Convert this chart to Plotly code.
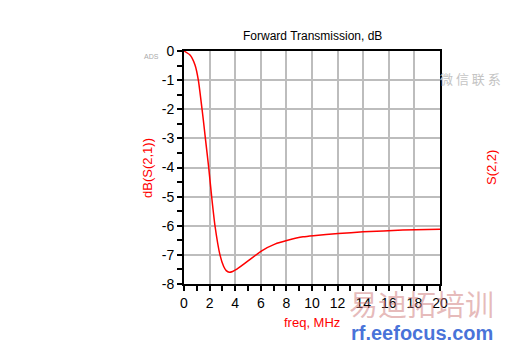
import plotly.graph_objects as go

freq_mhz = [0, 0.47, 0.86, 1.12, 1.41, 1.51, 1.67, 1.93, 2.16, 2.42, 2.81, 3.1, 3.3, 3.54, 3.8, 4.06,
            4.9, 6.07, 7.1, 8.1, 9.3, 10.1, 12.05, 14.0, 17.1, 20.0]
db_s21 = [0, -0.14, -0.48, -1.0, -2.0, -2.37, -3.0, -4.0, -5.0, -6.0, -7.0, -7.4, -7.54, -7.6, -7.57, -7.51,
          -7.24, -6.86, -6.63, -6.50, -6.38, -6.34, -6.27, -6.21, -6.15, -6.12]

x_ticks = [0, 2, 4, 6, 8, 10, 12, 14, 16, 18, 20]
y_ticks = [0, -1, -2, -3, -4, -5, -6, -7, -8]

FONT = "Liberation Sans, Arial, sans-serif"
RED = "#ff0000"

fig = go.Figure()
fig.add_trace(go.Scatter(x=freq_mhz, y=db_s21, mode="lines",
                         line=dict(color=RED, width=1.5, shape="spline", smoothing=0.6),
                         showlegend=False, hoverinfo="skip"))

L, R, T, B = 184, 66, 51, 62
W, H = 506 - L - R, 346 - T - B


def ann(text, px, py, size, color, family=FONT, angle=0):
    # px, py in picture pixels from top-left, converted to plot-area paper coords
    return dict(text=text, x=(px - L) / W, y=1 - (py - T) / H, xref="paper", yref="paper",
                xanchor="center", yanchor="middle", showarrow=False, textangle=angle,
                font=dict(size=size, color=color, family=family))


fig.update_layout(
    width=506, height=346,
    margin=dict(l=L, r=R, t=T, b=B),
    paper_bgcolor="white", plot_bgcolor="white",
    font=dict(family=FONT, size=13, color="black"),
    xaxis=dict(range=[0, 20], tickvals=x_ticks, ticktext=[str(v) for v in x_ticks],
               showgrid=True, gridcolor="#bdbdbd", gridwidth=1.5,
               showline=True, linecolor="black", linewidth=2, mirror=True,
               ticks="outside", ticklen=5, tickwidth=1.5, tickcolor="black",
               minor=dict(dtick=1, ticks="outside", ticklen=5, tickwidth=1.5, tickcolor="black", showgrid=False),
               zeroline=False, tickfont=dict(size=14)),
    yaxis=dict(range=[-8, 0], tickvals=y_ticks, ticktext=[str(v) for v in y_ticks],
               showgrid=True, gridcolor="#bdbdbd", gridwidth=1.5,
               showline=True, linecolor="black", linewidth=2, mirror=True,
               ticks="outside", ticklen=5, tickwidth=1.5, tickcolor="black",
               minor=dict(dtick=0.5, ticks="outside", ticklen=5, tickwidth=1.5, tickcolor="black", showgrid=False),
               zeroline=False, tickfont=dict(size=14)),
    annotations=[
        ann("微 信 联 系", 470, 78, 13, "#c4c4c4", "Noto Sans CJK SC"),
        ann("易迪拓培训", 421, 303, 29, "rgba(205,120,120,0.5)", "Noto Sans CJK SC"),
        ann("<b>rf.eefocus.com</b>", 422, 333, 20, "rgba(40,90,210,0.85)", FONT),
        ann("Forward Transmission, dB", 312, 36, 12, "black"),
        ann("dB(S(2,1))", 147, 168, 13, RED, angle=-90),
        ann("S(2,2)", 491, 168, 13, RED, angle=-90),
        ann("freq, MHz", 312, 322, 13, RED),
        ann("ADS", 151, 56, 7, "#aaaaaa"),
    ],
)

fig.write_html("out.html")
